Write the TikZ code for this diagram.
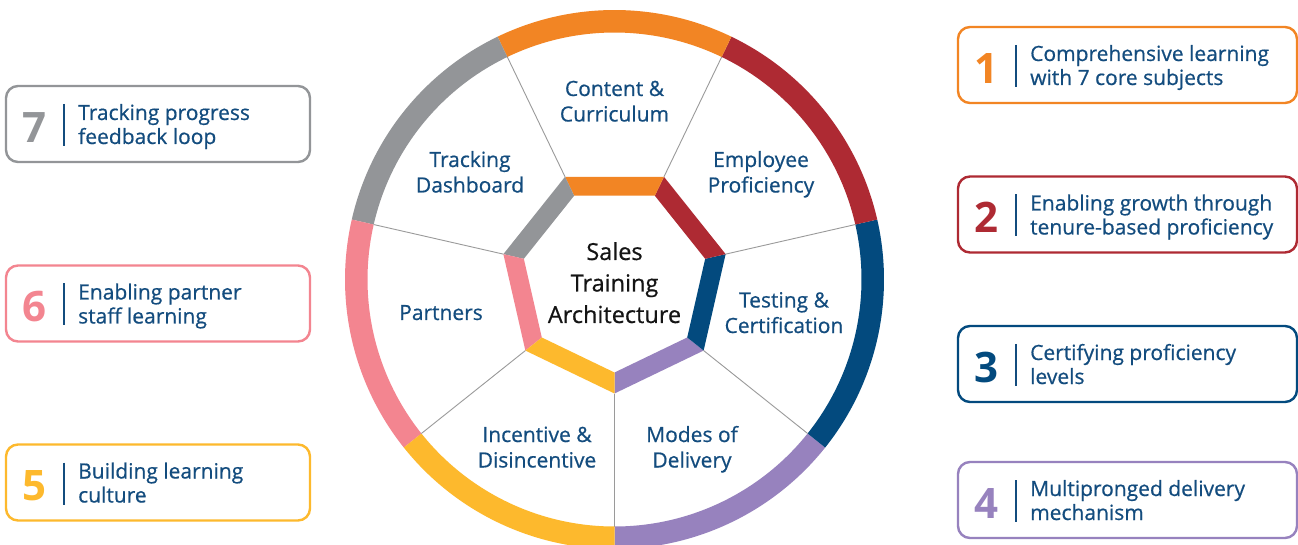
\documentclass[tikz,border=0pt]{standalone}
\usepackage{fontspec}
\setmainfont{Open Sans}
\newfontfamily\semib{Open Sans}[FakeBold=0.6]
\definecolor{cOrange}{HTML}{F28524}
\definecolor{cRed}{HTML}{AE2A33}
\definecolor{cBlue}{HTML}{034A7E}
\definecolor{cPurple}{HTML}{9782BE}
\definecolor{cYellow}{HTML}{FDB92D}
\definecolor{cPink}{HTML}{F38590}
\definecolor{cGray}{HTML}{939598}
\definecolor{cText}{HTML}{134C7E}
\definecolor{cDiv}{HTML}{9A9A9A}
\begin{document}
\begin{tikzpicture}[x=1pt,y=1pt,
  lbl/.style={anchor=base, align=center, text=cText, font=\semib\fontsize{21}{25.5}\selectfont, inner sep=0},
  boxtxt/.style={anchor=base west, align=left, text=cText, font=\semib\fontsize{21}{24}\selectfont, inner sep=0},
  numtxt/.style={anchor=base, font=\fontsize{42}{42}\selectfont\bfseries, inner sep=0},
  sbox/.style={draw, rounded corners=12, line width=2.4, fill=white, inner sep=0},
  sepline/.style={draw=cText, line width=1.2},
  divider/.style={draw=cDiv, line width=0.9}
]
\useasboundingbox (0,0) rectangle (1298,544);
\clip (0,0) rectangle (1298,544);
\fill[white] (0,0) rectangle (1298,544);

% wheel
\begin{scope}[shift={(614.5,264.5)}]
\foreach \c [count=\k from 0] in {cPurple,cBlue,cRed,cOrange,cGray,cPink,cYellow} {
  \pgfmathsetmacro\a{-90+\k*360/7}
  \pgfmathsetmacro\b{-90+(\k+1)*360/7}
  \fill[\c] (\a:247) arc[start angle=\a, end angle=\b, radius=247] -- (\b:269.5) arc[start angle=\b, end angle=\a, radius=269.5] -- cycle;
  \fill[\c] (\a:93) -- (\a:114) -- (\b:114) -- (\b:93) -- cycle;
  \draw[divider] (\a:114) -- (\a:247);
}
\end{scope}

% wheel labels (anchor = baseline of last line)
\node[lbl] (content) at (614.5,422.5) {Content \&\\Curriculum};
\node[lbl] (tracking) at (470,351.5) {Tracking\\Dashboard};
\node[lbl] (employee) at (761,351.5) {Employee\\Proficiency};
\node[lbl] (partners) at (441,224) {Partners};
\node[lbl] (testing) at (784,211) {Testing \&\\Certification};
\node[lbl] (incentive) at (537,76.5) {Incentive \&\\Disincentive};
\node[lbl] (modes) at (692,76.5) {Modes of\\Delivery};
\node[anchor=base, align=center, text=black!92, font=\semib\fontsize{23.5}{31.5}\selectfont, inner sep=0] (core) at (614.5,221) {Sales\\Training\\Architecture};

% boxes
\foreach \n/\l/\w/\c/\col/\ta/\tb in {
  1/958/339/65/cOrange/Comprehensive learning/with 7 core subjects,
  2/958/339/214.5/cRed/Enabling growth through/tenure-based proficiency,
  3/958/339/364/cBlue/Certifying proficiency/levels,
  4/958/339/500/cPurple/Multipronged delivery/mechanism,
  7/6/304/124/cGray/Tracking progress/feedback loop,
  6/6/304/303.5/cPink/Enabling partner/staff learning,
  5/6/304/482.5/cYellow/Building learning/culture} {
  \node[sbox, draw=\col, minimum width=\w, minimum height=76] (box\n) at ({\l+\w/2},{544-\c}) {};
  \node[numtxt, text=\col] (num\n) at ({\l+28},{544-\c-18.3}) {\n};
  \coordinate (sa\n) at ({\l+58},{544-\c+20});
  \coordinate (sb\n) at ({\l+58},{544-\c-22});
  \draw[sepline] (sa\n) -- (sb\n);
  \node[boxtxt] (txt\n) at ({\l+72},{544-\c-20}) {\ta\\\tb};
}
\end{tikzpicture}
\end{document}
